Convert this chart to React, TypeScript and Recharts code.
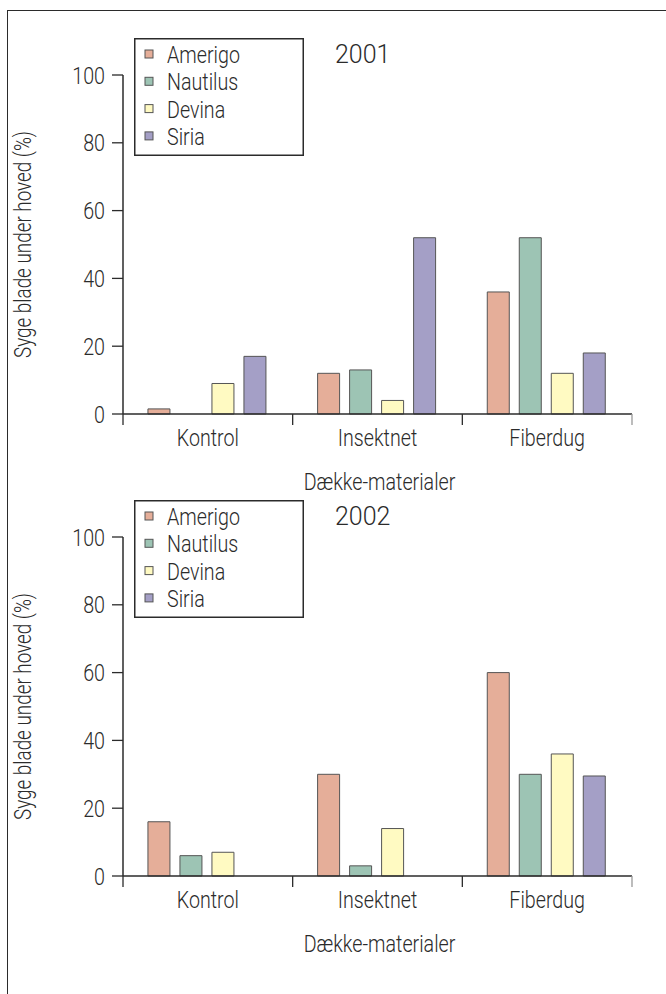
import { BarChart, Bar, XAxis, YAxis, Legend, Label } from 'recharts';

const categories = ['Kontrol', 'Insektnet', 'Fiberdug'];
const varieties = ['Amerigo', 'Nautilus', 'Devina', 'Siria'];
const varietyColors = ['#E5AE99', '#9DC4B4', '#FFFAC2', '#A49FC6'];

// 2001
const amerigo2001 = [1.5, 12, 36];
const nautilus2001 = [0, 13, 52];
const devina2001 = [9, 4, 12];
const siria2001 = [17, 52, 18];

// 2002
const amerigo2002 = [16, 30, 60];
const nautilus2002 = [6, 3, 30];
const devina2002 = [7, 14, 36];
const siria2002 = [0, 0, 29.5];

const yTicks = [0, 20, 40, 60, 80, 100];

const FONT = 'Roboto, "Liberation Sans", sans-serif';
const INK = '#2b2b2b';
const SQUEEZE = 0.82; // the original type is a condensed face
const CHART_W = 666;
const CHART_H = 502;
const MARGIN = { top: 75, right: 34, bottom: 12, left: 13 };
const Y_AXIS_W = 110;
const X_AXIS_H = 76;
const PLOT_W = CHART_W - MARGIN.left - MARGIN.right - Y_AXIS_W;

const buildRows = (cols: number[][]) =>
  categories.map((c, i) => {
    const row: Record<string, string | number> = { cat: c };
    varieties.forEach((v, j) => (row[v] = cols[j][i]));
    return row;
  });

const data2001 = buildRows([amerigo2001, nautilus2001, devina2001, siria2001]);
const data2002 = buildRows([amerigo2002, nautilus2002, devina2002, siria2002]);

function NarrowText({ x, y, anchor = 'start', size = 24, sx = SQUEEZE, children }: any) {
  return (
    <text
      transform={`translate(${x} ${y}) scale(${sx} 1)`}
      textAnchor={anchor}
      fill={INK}
      fontSize={size}
      fontWeight={300}
      fontFamily={FONT}
    >
      {children}
    </text>
  );
}

// category label + tick marks on the band boundaries
function CatTick(props: any) {
  const { x, y, payload, index } = props;
  const band = PLOT_W / categories.length;
  const left = x - band / 2;
  const right = x + band / 2;
  return (
    <g>
      <line x1={left} x2={left} y1={y} y2={y + 11} stroke={INK} strokeWidth={1.3} />
      {index === categories.length - 1 && (
        <line x1={right} x2={right} y1={y} y2={y + 11} stroke="#999" strokeWidth={1.3} />
      )}
      <NarrowText x={x} y={y + 32} anchor="middle">
        {payload.value}
      </NarrowText>
    </g>
  );
}

function ValTick(props: any) {
  const { x, y, payload } = props;
  return (
    <NarrowText x={x} y={y + 8.5} anchor="end">
      {payload.value}
    </NarrowText>
  );
}

function XTitle(props: any) {
  const { viewBox } = props;
  return (
    <NarrowText x={viewBox.x + viewBox.width / 2 + 2} y={viewBox.y + 76} anchor="middle">
      Dække-materialer
    </NarrowText>
  );
}

function YTitle(props: any) {
  const { viewBox } = props;
  return (
    <g transform={`translate(${viewBox.x + 10} ${viewBox.y + viewBox.height / 2}) rotate(-90)`}>
      <NarrowText x={0} y={8} anchor="middle" size={23}>
        Syge blade under hoved (%)
      </NarrowText>
    </g>
  );
}

function LegendBox({ payload }: any) {
  const items = varieties.map((v) => (payload || []).find((p: any) => p.value === v)).filter(Boolean);
  return (
    <svg width={170} height={118} style={{ display: 'block' }}>
      <rect x={0.75} y={0.75} width={168.5} height={116.5} fill="#fff" stroke={INK} strokeWidth={1.5} />
      {items.map((p: any, i: number) => (
        <g key={p.value}>
          <rect x={11} y={12 + i * 27.3} width={8} height={8} fill={p.color} stroke="#555" strokeWidth={1} />
          <NarrowText x={33} y={25 + i * 27.3}>
            {p.value}
          </NarrowText>
        </g>
      ))}
    </svg>
  );
}

function Panel({ data, year, top }: { data: Record<string, string | number>[]; year: string; top: number }) {
  return (
    <div style={{ position: 'absolute', left: 0, top, width: CHART_W, height: CHART_H }}>
      <BarChart
        width={CHART_W}
        height={CHART_H}
        data={data}
        margin={MARGIN}
        barCategoryGap="14.7%"
        barGap={10}
      >
        <XAxis
          dataKey="cat"
          height={X_AXIS_H}
          tickLine={false}
          tickSize={0}
          tickMargin={0}
          axisLine={{ stroke: INK, strokeWidth: 1.5 }}
          tick={<CatTick />}
          interval={0}
        >
          <Label content={<XTitle />} />
        </XAxis>
        <XAxis
          xAxisId="top"
          dataKey="cat"
          orientation="top"
          height={0}
          tick={false}
          tickLine={false}
          axisLine={{ stroke: INK, strokeWidth: 1.5 }}
        />
        <YAxis
          width={Y_AXIS_W}
          domain={[0, 100]}
          ticks={yTicks}
          tickSize={11}
          tickMargin={7}
          tickLine={{ stroke: INK, strokeWidth: 1.3 }}
          axisLine={{ stroke: INK, strokeWidth: 1.5 }}
          tick={<ValTick />}
        >
          <Label content={<YTitle />} />
        </YAxis>
        <YAxis
          yAxisId="r"
          orientation="right"
          width={0}
          domain={[0, 100]}
          tick={false}
          tickLine={false}
          axisLine={{ stroke: INK, strokeWidth: 1.5 }}
        />
        {varieties.map((v, i) => (
          <Bar
            key={v}
            dataKey={v}
            name={v}
            fill={varietyColors[i]}
            stroke="#555"
            strokeWidth={1}
            isAnimationActive={false}
          />
        ))}
        <Legend
          layout="vertical"
          align="center"
          verticalAlign="middle"
          content={<LegendBox />}
          wrapperStyle={{ position: 'absolute', left: 134, top: 38, width: 170, height: 118 }}
        />
      </BarChart>
      <svg
        width={80}
        height={40}
        style={{ position: 'absolute', left: 330, top: 38, overflow: 'visible' }}
      >
        <NarrowText x={5} y={25} size={25} sx={1}>
          {year}
        </NarrowText>
      </svg>
    </div>
  );
}

export default function App() {
  return (
    <div style={{ position: 'relative', width: 666, height: 994, overflow: 'hidden', background: '#fff' }}>
      <style>{`body{margin:0;overflow:hidden}`}</style>
      <div
        style={{
          position: 'absolute',
          left: 7,
          top: 10,
          width: 666,
          height: 994,
          borderLeft: `1.5px solid ${INK}`,
          borderTop: `1.5px solid ${INK}`,
        }}
      />
      <Panel data={data2001} year="2001" top={0} />
      <Panel data={data2002} year="2002" top={462} />
    </div>
  );
}
